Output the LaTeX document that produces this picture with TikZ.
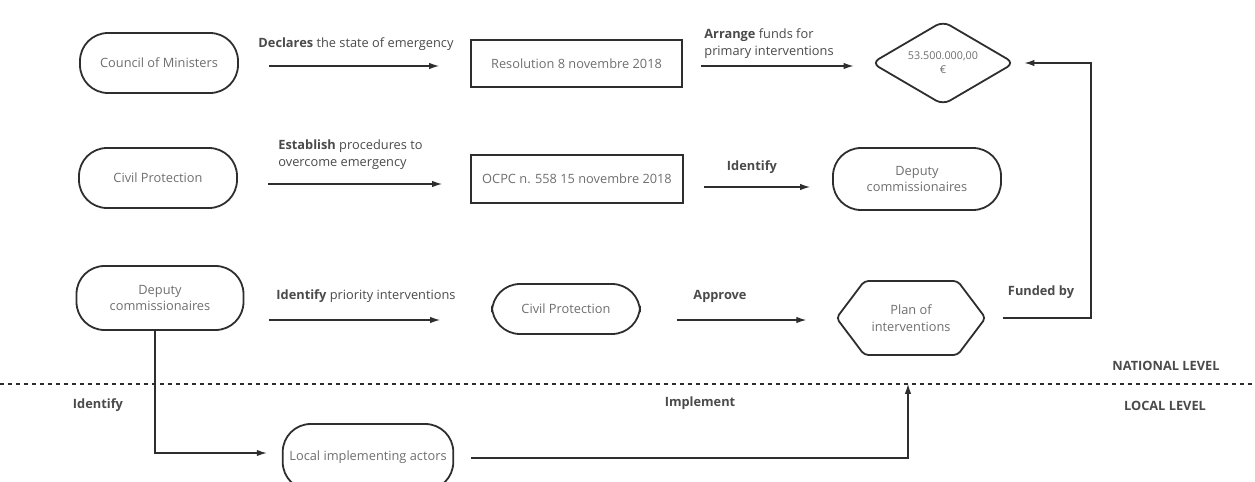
\documentclass[tikz,border=0pt]{standalone}
\usepackage{fontspec}
\setmainfont{Open Sans}
\usetikzlibrary{positioning,shapes.geometric,shapes.symbols,arrows.meta}
\definecolor{nodetext}{HTML}{6E6E6E}
\definecolor{labeltext}{HTML}{4A4A4A}
\definecolor{border}{HTML}{2E2E2E}
\newcommand{\boxfont}{\fontsize{6.4}{8.4}\selectfont}
\begin{document}
\begin{tikzpicture}
	[x=0.5pt,y=-0.5pt,
	pill/.style={draw=border,line width=0.9pt,rounded corners=14pt,
		minimum width=79pt,minimum height=30pt,align=center,
		text=nodetext,font=\boxfont},
	docbox/.style={draw=border,line width=0.9pt,minimum width=105.5pt,
		minimum height=23.5pt,text=nodetext,font=\boxfont},
	lbl/.style={text=labeltext,font=\boxfont,align=left,inner sep=1pt},
	flow/.style={draw=border,line width=0.6pt,
		-{Latex[length=5pt,width=3.2pt]}}]
	\useasboundingbox (0,0) rectangle (1255,482);
	% national level
	\node[pill] (council) at (159,63) {Council of Ministers};
	\node[docbox] (resol) at (576.5,63.5) {Resolution 8 novembre 2018};
	\node[draw=border,line width=0.9pt,diamond,aspect=1.7,rounded corners=4pt,
		inner sep=0pt,minimum width=71.5pt,minimum height=42pt,align=center,
		text=nodetext,font=\fontsize{5.4}{7}\selectfont]
		(funds) at (943,63) {53.500.000,00\\€};
	\node[pill] (civil1) at (158,178) {Civil Protection};
	\node[docbox,minimum width=106pt,minimum height=24pt] (ocpc) at (577,179)
		{OCPC n. 558 15 novembre 2018};
	\node[pill,minimum width=84pt,minimum height=31pt] (deputy1) at (917,179)
		{Deputy\\commissionaires};
	\node[pill,minimum width=83.5pt,minimum height=32pt] (deputy2) at (160,298)
		{Deputy\\commissionaires};
	\node[pill,minimum width=74pt,minimum height=25pt] (civil2) at (566,309)
		{Civil Protection};
	\node[draw=border,line width=0.9pt,signal,signal to=east and west,
		signal pointer angle=106,rounded corners=2pt,inner sep=0pt,
		minimum width=74.5pt,minimum height=37pt,align=center,
		text=nodetext,font=\boxfont]
		(plan) at (911,318) {Plan of\\interventions};
	% local level
	\node[pill,minimum width=81.5pt,minimum height=33pt] (local) at (368,457)
		{Local implementing actors};

	% labels
	\node[lbl] (declares) at (356,44) {\textbf{Declares} the state of emergency};
	\node[lbl,anchor=west] (arrange) at (702,44)
		{\textbf{Arrange} funds for\\primary interventions};
	\node[lbl,anchor=west] (establish) at (276,155)
		{\textbf{Establish} procedures to\\overcome emergency};
	\node[lbl] (identify1) at (752,167) {\textbf{Identify}};
	\node[lbl] (identify2) at (366,296) {\textbf{Identify} priority interventions};
	\node[lbl] (approve) at (720,296) {\textbf{Approve}};
	\node[lbl] (funded) at (1041,292) {\textbf{Funded by}};
	\node[lbl] (identify3) at (98,405) {\textbf{Identify}};
	\node[lbl] (implement) at (700,403) {\textbf{Implement}};
	\node[lbl] (national) at (1166,366) {\textbf{NATIONAL LEVEL}};
	\node[lbl] (locallvl) at (1165,406) {\textbf{LOCAL LEVEL}};

	% level divider
	\draw[border,line width=0.6pt,dash pattern=on 2pt off 2pt] (0,384) -- (1255,384);

	% connectors
	\coordinate (fundcorner) at (1091,318);
	\coordinate (implcorner) at (908,458);
	\draw[flow,shorten <=15pt,shorten >=15.5pt]
		([yshift=-1.5pt]council.east) -- ([yshift=-1.25pt]resol.west);
	\draw[flow,shorten <=9pt,shorten >=8.5pt]
		([yshift=-1.25pt]resol.east) -- ([yshift=-1.5pt]funds.west);
	\draw[flow,shorten <=15pt,shorten >=14pt]
		([yshift=-3pt]civil1.east) -- ([yshift=-2.5pt]ocpc.west);
	\draw[flow,shorten <=10pt,shorten >=11pt]
		([yshift=-4pt]ocpc.east) -- ([yshift=-4pt]deputy1.west);
	\draw[flow,shorten <=12.5pt,shorten >=25.5pt]
		([yshift=-11pt]deputy2.east) -- ([yshift=-5.5pt]civil2.west);
	\draw[flow,shorten <=18pt,shorten >=14.5pt]
		([yshift=-5.5pt]civil2.east) -- ([yshift=-1pt]plan.west);
	\draw[flow,shorten <=8pt] (plan.east) -- (fundcorner)
		|- ([xshift=4.5pt]funds.east);
	\draw[flow,shorten >=7.5pt] ([xshift=-2.5pt]deputy2.south)
		|- ([yshift=2pt]local.west);
	\draw[flow,shorten >=14pt] ([xshift=8.5pt,yshift=-0.5pt]local.east)
		-- (implcorner) -- (implcorner |- plan.south);
\end{tikzpicture}
\end{document}
